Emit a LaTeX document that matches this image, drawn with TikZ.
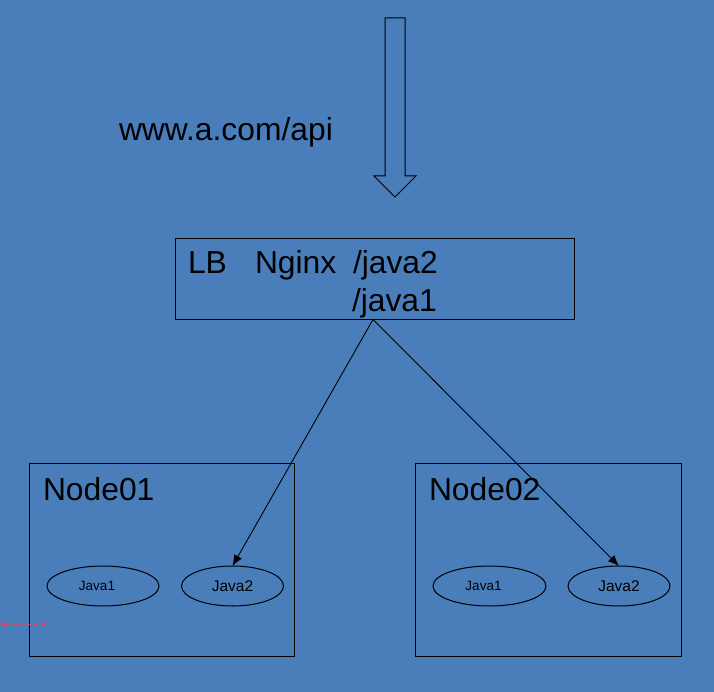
\documentclass[tikz,border=0pt]{standalone}
\usepackage{fontspec}
\setmainfont{Liberation Sans}
\usetikzlibrary{shapes.geometric,arrows.meta}
\definecolor{bgblue}{RGB}{74,126,187}
\definecolor{reddash}{RGB}{214,70,90}
\tikzset{
  every node/.style={inner sep=0pt, outer sep=0pt},
  boxnode/.style={draw=black, line width=1pt, rectangle},
  jnode/.style={draw=black, line width=1pt, ellipse, minimum height=40pt},
  bigtext/.style={font=\fontsize{31.8}{38}\selectfont, anchor=base west},
  conn/.style={draw=black, line width=0.9pt, -{Latex[length=11pt,width=9pt]}},
}
\begin{document}
\begin{tikzpicture}[x=1pt,y=-1pt]
\fill[bgblue] (0,0) rectangle (714,692);
\useasboundingbox (0,0) rectangle (714,692);
% big down arrow
\draw[black, line width=1pt, line join=miter] (385,18) -- (405,18) -- (405,176) -- (416,176) -- (395,197) -- (374,176) -- (385,176) -- cycle;
\node[bigtext] (url) at (119,141) {www.a.com/api};
% LB box
\node[boxnode, minimum width=399pt, minimum height=80pt] (lb) at (374.5,279) {};
\node[bigtext] (lbt) at (188,274) {LB};
\node[bigtext] (ngx) at (255,274) {Nginx};
\node[bigtext] (j2) at (353,274) {/java2};
\node[bigtext] (j1) at (352,312) {/java1};
% Node boxes
\node[boxnode, minimum width=265pt, minimum height=193pt] (n1) at (161.5,559.5) {};
\node[boxnode, minimum width=266pt, minimum height=193pt] (n2) at (548,559.5) {};
\node[bigtext] (n1t) at (43,500) {Node01};
\node[bigtext] (n2t) at (429,500) {Node02};
% ellipses
\node[jnode, minimum width=112pt, font=\fontsize{13.5}{16}\selectfont] (n1j1) at (103,586) {Java1\hspace*{12pt}};
\node[jnode, minimum width=102pt, font=\fontsize{15.5}{18}\selectfont] (n1j2) at (232.5,586) {Java2};
\node[jnode, minimum width=113pt, font=\fontsize{13.5}{16}\selectfont] (n2j1) at (489.5,586) {Java1\hspace*{12pt}};
\node[jnode, minimum width=102pt, font=\fontsize{15.5}{18}\selectfont] (n2j2) at (619,586) {Java2};
% connectors
\coordinate (src) at (373,319.5);
\draw[conn] (src) -- (n1j2.north);
\draw[conn] (src) -- (n2j2.north);
% small red dashed double arrow
\coordinate (ra) at (0,624);
\coordinate (rb) at (47,624);
\draw[reddash, line width=0.7pt, dash pattern=on 4pt off 3pt, {Latex[length=6pt,width=6pt]}-{Latex[length=6pt,width=6pt]}] (ra) -- (rb);
\end{tikzpicture}
\end{document}
